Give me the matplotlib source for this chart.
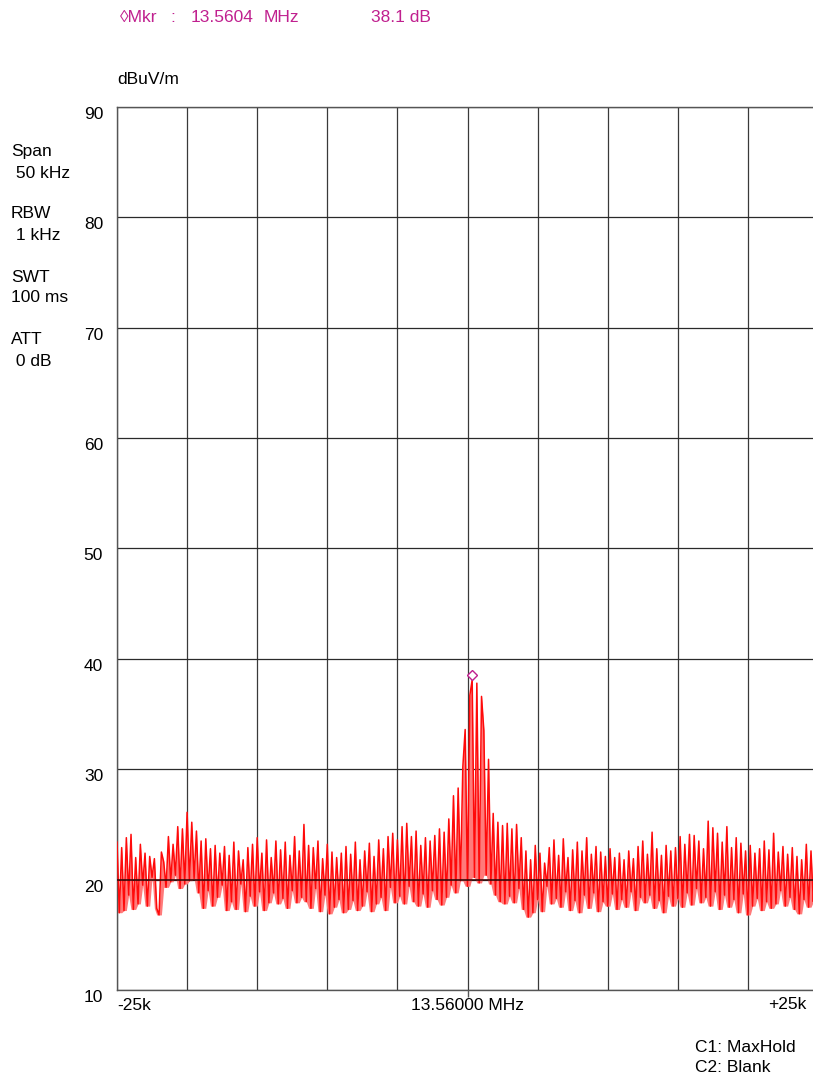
import numpy as np
import matplotlib
matplotlib.use('Agg')
import matplotlib.pyplot as plt

plt.rcParams['font.family'] = ['Liberation Sans', 'DejaVu Sans']

# trace values (dBuV/m), 301 sweep points from -25k to +25k
level = [
    23.4, 17.0, 22.9, 17.2, 23.8, 18.6, 24.1, 17.3, 22.0, 17.8,
    23.2, 19.5, 22.4, 17.6, 22.1, 20.2, 21.9, 17.4, 16.8, 22.5,
    21.6, 19.3, 23.9, 19.8, 23.2, 20.4, 24.8, 19.2, 24.6, 19.6,
    26.1, 19.9, 25.2, 20.1, 24.4, 18.8, 23.5, 17.4, 23.7, 19.0,
    22.8, 17.6, 23.1, 18.4, 22.4, 19.5, 23.0, 17.2, 22.2, 18.0,
    23.4, 17.3, 22.6, 19.6, 21.8, 17.1, 22.9, 18.5, 23.2, 17.6,
    23.8, 18.9, 22.4, 17.2, 23.6, 17.9, 22.0, 18.8, 23.5, 17.8,
    22.7, 18.3, 23.4, 17.4, 22.2, 19.0, 23.9, 17.9, 22.6, 18.4,
    25.0, 18.0, 23.1, 17.4, 22.9, 19.2, 23.5, 17.1, 21.9, 18.6,
    23.2, 16.9, 22.5, 17.5, 22.0, 18.2, 22.4, 17.0, 23.0, 17.3,
    22.3, 18.1, 23.4, 17.2, 21.8, 17.6, 22.6, 18.9, 23.3, 17.1,
    22.1, 17.8, 23.6, 18.4, 22.8, 17.2, 23.9, 19.3, 24.2, 17.9,
    23.6, 18.5, 24.8, 17.8, 25.1, 19.4, 23.9, 18.0, 24.4, 17.6,
    23.1, 18.7, 23.8, 17.5, 23.5, 19.0, 24.0, 18.2, 24.6, 17.7,
    24.3, 18.4, 25.5, 19.5, 27.6, 18.8, 28.3, 19.9, 30.2, 33.6,
    19.4, 36.7, 38.1, 20.2, 37.8, 19.7, 36.6, 33.5, 20.4, 30.9,
    19.6, 26.0, 18.6, 25.2, 18.0, 24.9, 17.8, 25.1, 18.5, 24.6,
    17.9, 25.0, 19.2, 23.8, 17.3, 22.6, 16.6, 21.8, 17.0, 23.1,
    18.2, 22.4, 17.1, 21.5, 19.4, 22.9, 17.8, 23.6, 18.3, 22.2,
    17.5, 23.7, 18.9, 22.0, 17.2, 22.7, 18.1, 23.4, 17.0, 22.6,
    18.6, 23.8, 17.4, 22.3, 18.8, 23.0, 17.1, 22.5, 18.0, 22.1,
    17.6, 22.8, 18.7, 22.0, 17.3, 22.4, 18.2, 21.8, 17.5, 22.6,
    18.9, 21.9, 17.2, 23.0, 18.4, 23.5, 17.9, 22.3, 18.6, 24.3,
    17.4, 22.8, 18.1, 22.2, 17.0, 23.1, 18.5, 22.6, 17.6, 22.9,
    18.3, 23.9, 17.5, 23.2, 18.8, 24.1, 17.7, 24.0, 19.2, 23.5,
    17.9, 22.8, 18.4, 25.3, 17.6, 24.7, 18.9, 24.2, 17.3, 23.4,
    18.6, 24.8, 17.5, 22.9, 18.2, 23.8, 17.0, 23.3, 18.7, 22.6,
    16.8, 23.1, 17.6, 22.4, 18.3, 22.8, 17.2, 23.5, 18.0, 22.7,
    17.4, 24.2, 17.8, 22.5, 19.0, 23.0, 17.6, 22.3, 18.4, 22.9,
    17.3, 22.1, 16.9, 21.8, 18.2, 23.2, 17.5, 22.6, 18.0, 22.4,
    17.8,
]
freq = np.linspace(-25, 25, len(level))  # kHz offset from 13.56 MHz

display_line = 20.0
y_ticks = [10, 20, 30, 40, 50, 60, 70, 80, 90]
x_grid = np.linspace(-25, 25, 11)

mkr_parts = [('\u25CAMkr', 120), (':', 170), ('13.5604', 191), ('MHz', 264), ('38.1 dB', 371)]
settings = [('Span', ' 50 kHz'), ('RBW', ' 1 kHz'), ('SWT', '100 ms'), ('ATT', ' 0 dB')]

fs = 12.5
W, H = 813, 1077
fig = plt.figure(figsize=(W / 100, H / 100), dpi=100)
ax = fig.add_axes([117 / W, 1 - 990 / H, (818 - 117) / W, (990 - 107) / H])

ax.set_xlim(-25, 25)
ax.set_ylim(10, 90)

for xv in x_grid:
    ax.axvline(xv, color='#3a3a3a', lw=0.9, zorder=1)
for yv in y_ticks:
    ax.axhline(yv, color='#2a2a2a', lw=0.9, zorder=1)

# light fill inside each spike of the sweep, red outline on top
lower = np.minimum(np.roll(level, 1), np.roll(level, -1))
lower = np.minimum(lower, level)
ax.fill_between(freq, lower, level, color='#ff7a7a', lw=0, zorder=2)
ax.plot(freq, level, color='#ff0a0a', lw=1.1, zorder=3)
ax.axhline(display_line, color='#3a0a0a', lw=1.2, zorder=4)

# marker on the peak
pk = int(np.argmax(level))
ax.plot(freq[pk], level[pk] + 0.4, marker='D', ms=5.5, mfc='white', mec='#c0208f', mew=1.0, zorder=5)

for s in ax.spines.values():
    s.set_color('#555555')
    s.set_linewidth(1.0)

ax.set_yticks(y_ticks)
ax.set_yticklabels([str(v) for v in y_ticks], fontsize=fs, va='top')
ax.tick_params(axis='y', length=0, pad=10)
ax.set_xticks([0])
ax.set_xticklabels([''])
ax.tick_params(axis='x', length=5, width=1, color='#555555', direction='out')

ax.text(0.0, -0.009, '-25k', transform=ax.transAxes, ha='left', va='top', fontsize=fs)
ax.text(0.5, -0.009, '13.56000 MHz', transform=ax.transAxes, ha='center', va='top', fontsize=fs)
ax.text(806 / W, 1 - 997 / H, '+25k', transform=fig.transFigure, ha='right', va='top', fontsize=fs)

for txt, xp in mkr_parts:
    fig.text(xp / W, 1 - 18 / H, txt, color='#c0208f', fontsize=fs, va='center', ha='left')
fig.text(117 / W, 1 - 80 / H, 'dBuV/m', fontsize=fs, va='center', ha='left')

ys = [152, 214, 277, 340]
for (name, val), yp in zip(settings, ys):
    fig.text(11 / W, 1 - yp / H, name, fontsize=fs, va='center', ha='left')
    fig.text(11 / W, 1 - (yp + 21) / H, val, fontsize=fs, va='center', ha='left')

fig.text(695 / W, 1 - 1047 / H, 'C1: MaxHold', fontsize=fs, va='center', ha='left')
fig.text(695 / W, 1 - 1068 / H, 'C2: Blank', fontsize=fs, va='center', ha='left')

fig.savefig('out.png', dpi=100)
